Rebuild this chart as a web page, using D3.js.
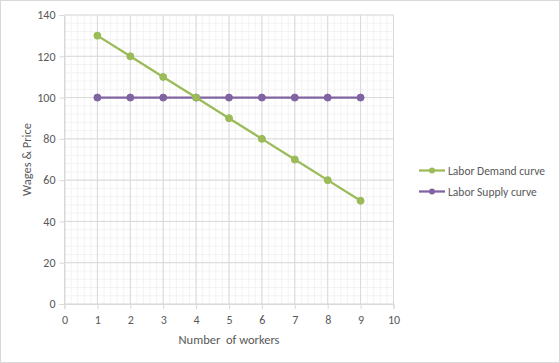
<!DOCTYPE html>
<html>
<head>
<meta charset="utf-8">
<script src="https://cdn.jsdelivr.net/npm/d3@7"></script>
<style>
  html, body { margin: 0; padding: 0; background: #fff; }
  svg { display: block; font-family: Calibri, Carlito, Lato, sans-serif; }
</style>
</head>
<body>
<div id="chart"></div>
<script>
const workers = [1, 2, 3, 4, 5, 6, 7, 8, 9];
const demand  = [130, 120, 110, 100, 90, 80, 70, 60, 50];
const supply  = [100, 100, 100, 100, 100, 100, 100, 100, 100];
const xTicks  = [0, 1, 2, 3, 4, 5, 6, 7, 8, 9, 10];
const yTicks  = [0, 20, 40, 60, 80, 100, 120, 140];
const seriesNames  = ['Labor Demand curve', 'Labor Supply curve'];
const seriesColors = ['#9bbb59', '#8064a2'];

const W = 560, H = 363;
const m = { left: 64.5, right: 166.5, top: 15, bottom: 59 };
const svg = d3.select('#chart').append('svg').attr('width', W).attr('height', H);

svg.append('rect').attr('x', 0.5).attr('y', 0.5).attr('width', W - 1).attr('height', H - 1)
  .attr('fill', '#fff').attr('stroke', '#d9d9d9');

const x = d3.scaleLinear().domain([0, 10]).range([m.left, W - m.right]);
const y = d3.scaleLinear().domain([0, 140]).range([H - m.bottom, m.top]);

// minor grid
const grid = svg.append('g');
d3.range(0, 10.001, 0.2).forEach(v => {
  grid.append('line').attr('x1', x(v)).attr('x2', x(v)).attr('y1', y(0)).attr('y2', y(140))
    .attr('stroke', '#efefef').attr('stroke-width', 0.75);
});
d3.range(0, 140.001, 4).forEach(v => {
  grid.append('line').attr('x1', x(0)).attr('x2', x(10)).attr('y1', y(v)).attr('y2', y(v))
    .attr('stroke', '#efefef').attr('stroke-width', 0.75);
});
// major grid
xTicks.forEach(v => {
  grid.append('line').attr('x1', x(v)).attr('x2', x(v)).attr('y1', y(0)).attr('y2', y(140))
    .attr('stroke', '#d9d9d9').attr('stroke-width', 1);
});
yTicks.forEach(v => {
  grid.append('line').attr('x1', x(0)).attr('x2', x(10)).attr('y1', y(v)).attr('y2', y(v))
    .attr('stroke', '#d9d9d9').attr('stroke-width', 1);
});

// axes
const xAxis = svg.append('g').attr('transform', `translate(0,${y(0)})`)
  .call(d3.axisBottom(x).tickValues(xTicks).tickSize(5).tickPadding(6).tickFormat(d3.format('d')));
const yAxis = svg.append('g').attr('transform', `translate(${x(0)},0)`)
  .call(d3.axisLeft(y).tickValues(yTicks).tickSize(5).tickPadding(4).tickFormat(d3.format('d')));
[xAxis, yAxis].forEach(a => {
  a.select('.domain').attr('stroke', '#d9d9d9');
  a.selectAll('.tick line').attr('stroke', '#d9d9d9');
  a.selectAll('.tick text').attr('fill', '#595959').attr('font-size', '12px')
    .attr('font-family', 'Calibri, Carlito, Lato, sans-serif');
});

// axis titles
svg.append('text').attr('x', (x(0) + x(10)) / 2).attr('y', 344)
  .attr('text-anchor', 'middle').attr('font-size', '12.5px').attr('fill', '#595959')
  .attr('xml:space', 'preserve').text('Number  of workers');
svg.append('text').attr('transform', `translate(31,${y(70)}) rotate(-90)`)
  .attr('text-anchor', 'middle').attr('font-size', '12.5px').attr('fill', '#595959')
  .text('Wages & Price');

// series
const seriesData = [demand, supply];
const line = d3.line().x((d, i) => x(workers[i])).y(d => y(d));
seriesData.slice().reverse().forEach((vals, ri) => {
  const si = seriesData.length - 1 - ri;
  const col = seriesColors[si];
  svg.append('path').datum(vals).attr('d', line).attr('fill', 'none')
    .attr('stroke', col).attr('stroke-width', 2.25).attr('stroke-linejoin', 'round');
  svg.append('g').selectAll('circle').data(vals).join('circle')
    .attr('cx', (d, i) => x(workers[i])).attr('cy', d => y(d)).attr('r', 3.5)
    .attr('fill', col).attr('stroke', col);
});

// legend
const legend = svg.append('g').attr('transform', 'translate(419,170.5)');
seriesNames.forEach((name, i) => {
  const g = legend.append('g').attr('transform', `translate(0,${i * 21})`);
  g.append('line').attr('x1', 0).attr('x2', 26).attr('y1', 0).attr('y2', 0)
    .attr('stroke', seriesColors[i]).attr('stroke-width', 2.25);
  g.append('circle').attr('cx', 13).attr('cy', 0).attr('r', 3).attr('fill', seriesColors[i]);
  g.append('text').attr('x', 29).attr('y', 4).attr('font-size', '11.5px').attr('fill', '#595959')
    .text(name);
});
</script>
</body>
</html>
